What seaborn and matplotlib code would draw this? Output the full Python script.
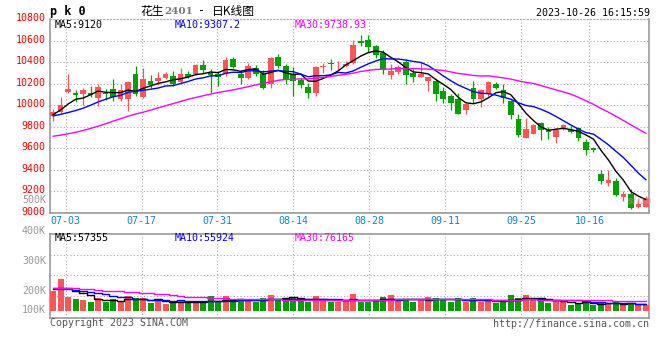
import numpy as np
import pandas as pd
import matplotlib
matplotlib.use('Agg')
import matplotlib.pyplot as plt
import matplotlib.transforms as mtransforms
import seaborn as sns

# =============================================
# DATA (pk2401)
# =============================================
opens = [9903, 9938, 10124, 10109, 10103, 10118, 10063, 10118, 10155, 10057,
         10057, 10288, 10072, 10226, 10226, 10256, 10272, 10220, 10294, 10294,
         10371, 10300, 10294, 10287, 10425, 10294, 10257, 10343, 10287, 10201,
         10447, 10364, 10287, 10232, 10170, 10109, 10355, 10391, 10379, 10364,
         10394, 10594, 10609, 10554, 10487, 10285, 10306, 10404, 10297, 10266,
         10229, 10223, 10128, 10085, 10055, 9954, 10159, 10061, 10107, 10199,
         10137, 10036, 9871, 9700, 9733, 9831, 9770, 9709, 9785, 9770,
         9785, 9663, 9601, 9363, 9280, 9301, 9148, 9173, 9056, 9056]
highs = [9962, 10078, 10293, 10140, 10164, 10179, 10195, 10149, 10241, 10195,
         10226, 10364, 10348, 10281, 10312, 10305, 10318, 10348, 10318, 10380,
         10420, 10339, 10318, 10447, 10447, 10324, 10394, 10370, 10324, 10447,
         10477, 10385, 10355, 10256, 10210, 10364, 10394, 10425, 10410, 10410,
         10609, 10655, 10655, 10563, 10517, 10385, 10370, 10428, 10337, 10398,
         10260, 10245, 10168, 10104, 10116, 10024, 10229, 10147, 10229, 10220,
         10193, 10046, 9914, 9885, 9830, 9847, 9801, 9785, 9830, 9808,
         9797, 9687, 9608, 9402, 9402, 9326, 9203, 9219, 9127, 9160]
lows = [9857, 9930, 10115, 10030, 10000, 10078, 9992, 10048, 10041, 10041,
        9944, 10088, 10063, 10158, 10189, 10240, 10179, 10195, 10250, 10285,
        10300, 10109, 10180, 10272, 10343, 10201, 10241, 10272, 10149, 10158,
        10349, 10195, 10088, 10164, 10066, 10088, 10300, 10330, 10330, 10355,
        10385, 10548, 10493, 10441, 10287, 10239, 10290, 10199, 10214, 10260,
        10128, 10036, 10024, 9954, 9914, 9923, 10024, 9984, 10090, 10150,
        10024, 9868, 9709, 9694, 9733, 9678, 9687, 9654, 9770, 9740,
        9669, 9534, 9565, 9265, 9250, 9157, 9111, 9035, 9050, 9056]
closes = [9940, 10000, 10155, 10094, 10143, 10094, 10170, 10100, 10078, 10140,
          10217, 10103, 10247, 10189, 10256, 10288, 10201, 10294, 10266, 10371,
          10328, 10281, 10263, 10416, 10355, 10257, 10364, 10294, 10164, 10441,
          10364, 10232, 10226, 10189, 10109, 10355, 10364, 10379, 10385, 10385,
          10557, 10573, 10542, 10462, 10324, 10321, 10358, 10281, 10260, 10291,
          10260, 10101, 10055, 10021, 9923, 10015, 10055, 10137, 10214, 10159,
          10067, 9908, 9724, 9776, 9816, 9770, 9755, 9770, 9816, 9755,
          9693, 9586, 9580, 9295, 9304, 9167, 9173, 9050, 9087, 9142]
# volume in thousands of lots
volumes_k = [167, 268, 116, 99, 90, 76, 107, 76, 99, 71,
             124, 107, 107, 65, 88, 56, 68, 90, 68, 82,
             62, 124, 82, 124, 82, 90, 82, 76, 107, 133,
             102, 107, 113, 88, 76, 124, 96, 76, 76, 82,
             141, 76, 76, 85, 113, 133, 88, 96, 73, 96,
             113, 107, 88, 76, 105, 76, 105, 76, 96, 68,
             76, 133, 107, 133, 88, 88, 68, 88, 76, 48,
             59, 76, 48, 62, 62, 76, 48, 62, 48, 48]

# moving-average values at the left edge (window starts before the chart)
ma5_head = [9912, 9955, 10010, 10055]
ma10_head = [9900, 9915, 9932, 9950, 9972, 10000, 10030, 10055, 10078]
ma30_head = [9712, 9722, 9735, 9748, 9765, 9785, 9805, 9828, 9852, 9875,
             9898, 9918, 9935, 9955, 9975, 9995, 10015, 10035, 10055, 10072,
             10088, 10103, 10118, 10130, 10142, 10157, 10172, 10188, 10203]
vma5_head = [184, 195, 189, 167]
vma10_head = [189, 186, 180, 172, 165, 160, 150, 140, 128]
vma30_head = [195, 193, 191, 189, 186, 180, 172, 168, 166, 163,
              161, 157, 153, 149, 145, 141, 136, 128, 120, 115,
              112, 110, 106, 104, 102, 100, 98, 97, 96]

date_labels = ['07-03', '07-17', '07-31', '08-14', '08-28', '09-11', '09-25', '10-16']
date_idx = [2, 12, 22, 32, 42, 52, 62, 71]
price_ticks = list(range(9000, 10801, 200))
vol_labels = ['500K', '400K', '300K', '200K', '100K']
ma_price_text = ['MA5:9120', 'MA10:9307.2', 'MA30:9738.93']
ma_vol_text = ['MA5:57355', 'MA10:55924', 'MA30:76165']

# =============================================
# PREP
# =============================================
RED = '#ff5555'
GREEN = '#00a000'
MA_COLORS = ['black', '#0000ff', '#ff00ff']
GRID = '#aaaaaa'
SPINE = '#999999'
DATE_BLUE = '#0a86d8'
MONO = 'DejaVu Sans Mono'
FS = 7.2

x = np.arange(len(closes))
o = np.array(opens, float)
c = np.array(closes, float)
up = c >= o
colors = np.where(up, RED, GREEN)
vol = np.array(volumes_k, float) * 1000


def moving_avg(values, n, head):
    ma = pd.Series(values).rolling(n).mean().to_numpy()
    ma[:len(head)] = head
    return ma


ma_price = [moving_avg(c, 5, ma5_head), moving_avg(c, 10, ma10_head),
            moving_avg(c, 30, ma30_head)]
ma_vol = [moving_avg(vol, 5, np.array(vma5_head) * 1000),
          moving_avg(vol, 10, np.array(vma10_head) * 1000),
          moving_avg(vol, 30, np.array(vma30_head) * 1000)]

sns.set_theme(style='white')
plt.rcParams['font.family'] = [MONO, 'Noto Sans CJK SC']

W, H = 660, 360
fig = plt.figure(figsize=(W / 100, H / 100), dpi=100)
fig.patch.set_facecolor('white')


def fpos(px, py):
    return px / W, 1 - py / H


# sina grid is drawn slightly wider than the candle spacing
grid_x = np.array(date_idx) * 1.011 - 0.33
xlim = (-0.4, 79.44)

# =============================================
# PRICE PANEL
# =============================================
ax = fig.add_axes([50 / W, 1 - 213 / H, 599.3 / W, 194 / H])
ax.set_facecolor('white')
ax.vlines(x, lows, highs, colors=colors, linewidth=0.9, zorder=3)
body = np.maximum(np.abs(c - o), 8)
ax.bar(x, body, bottom=np.minimum(o, c), width=0.76, color=colors,
       linewidth=0, zorder=4)
for ma, col in zip(ma_price, MA_COLORS):
    sns.lineplot(x=x, y=ma, ax=ax, color=col, linewidth=1.0, zorder=5)

ax.set_xlim(*xlim)
ax.set_ylim(9000, 10800)
ax.set_yticks(price_ticks)
ax.set_yticklabels([str(t) for t in price_ticks], color='red', fontsize=FS,
                   family=MONO)
ax.set_xticks(grid_x)
ax.set_xticklabels(date_labels, color=DATE_BLUE, fontsize=FS, family=MONO)
ax.tick_params(axis='both', length=0)
ax.tick_params(axis='y', pad=3)
ax.tick_params(axis='x', pad=2.5)
shift = mtransforms.ScaledTranslation(0, 2 / 100, fig.dpi_scale_trans)
for lbl in ax.get_yticklabels():
    lbl.set_transform(lbl.get_transform() + shift)
ax.grid(True, color=GRID, linestyle=(0, (1, 2)), linewidth=0.8)
ax.set_xlabel('')
ax.set_ylabel('')
for side in ['left', 'right', 'bottom']:
    ax.spines[side].set_color(SPINE)
    ax.spines[side].set_linewidth(1.2)
ax.spines['top'].set_color(GRID)
ax.spines['top'].set_linestyle((0, (1, 2)))
ax.spines['top'].set_linewidth(0.8)

for (px, txt), col in zip(zip([55, 175, 295], ma_price_text), MA_COLORS):
    fig.text(*fpos(px, 25), txt, color=col, fontsize=FS, family=MONO,
             va='center', ha='left')

# =============================================
# VOLUME PANEL
# =============================================
axv = fig.add_axes([50 / W, 1 - 318 / H, 599.3 / W, 84 / H])
vdf = pd.DataFrame({'idx': x, 'vol': vol, 'dir': np.where(up, 'up', 'down')})
sns.barplot(data=vdf, x='idx', y='vol', hue='dir',
            palette={'up': RED, 'down': GREEN}, native_scale=True,
            dodge=False, width=0.8, errorbar=None, legend=False,
            saturation=1, linewidth=0, ax=axv, zorder=3)
for ma, col in zip(ma_vol, MA_COLORS):
    sns.lineplot(x=x, y=ma, ax=axv, color=col, linewidth=1.0,
                 drawstyle='steps-mid', zorder=5)
axv.set_xlim(*xlim)
axv.set_ylim(-62000, 650000)
axv.set_yticks([125000, 302000, 472000])
axv.set_yticklabels([])
axv.set_xticks(grid_x)
axv.set_xticklabels([])
axv.tick_params(axis='both', length=0)
axv.grid(True, color=GRID, linestyle=(0, (1, 2)), linewidth=0.8)
axv.set_xlabel('')
axv.set_ylabel('')
for side in axv.spines:
    axv.spines[side].set_color(SPINE)
    axv.spines[side].set_linewidth(1.2)

for (px, txt), col in zip(zip([55, 175, 295], ma_vol_text), MA_COLORS):
    fig.text(*fpos(px, 238), txt, color=col, fontsize=FS, family=MONO,
             va='center', ha='left')

# sina places its volume labels at fixed pixel rows
for py, txt in zip([200, 231, 261.5, 290.5, 310], vol_labels):
    fig.text(*fpos(46, py), txt, color='#999999', fontsize=FS, family=MONO,
             va='center', ha='right')

# =============================================
# HEADER / FOOTER TEXT
# =============================================
fig.text(*fpos(50, 11.5), 'p k 0', fontsize=8.5, weight='bold', family=MONO,
         va='center', ha='left', color='black')
fig.text(*fpos(140, 11), '花生', fontsize=8.5, family=['Noto Sans CJK SC'],
         va='center', ha='left', color='black')
fig.text(*fpos(164, 11.5), '2401', fontsize=7.5, weight='bold',
         family=['DejaVu Serif'], va='center', ha='left', color='#777777')
fig.text(*fpos(198, 11), '-', fontsize=8.5, family=MONO,
         va='center', ha='left', color='black')
fig.text(*fpos(212, 11), '日K线图', fontsize=8.5, family=['Noto Sans CJK SC'],
         va='center', ha='left', color='black')
fig.text(*fpos(649.5, 12.5), '2023-10-26 16:15:59', fontsize=FS, family=MONO,
         va='center', ha='right', color='black')
fig.text(*fpos(50, 323.5), 'Copyright 2023 SINA.COM', fontsize=FS,
         family=MONO, va='center', ha='left', color='#555555')
fig.text(*fpos(649.5, 324), 'http://finance.sina.com.cn', fontsize=FS,
         family=MONO, va='center', ha='right', color='#555555')
fig.text(*fpos(640, 201), 'sina', fontsize=8, weight='bold', style='italic',
         family=['DejaVu Sans'], va='center', ha='center', color='#c8a0a0',
         alpha=0.45, zorder=10)

fig.savefig('out.png', dpi=100, facecolor='white')
